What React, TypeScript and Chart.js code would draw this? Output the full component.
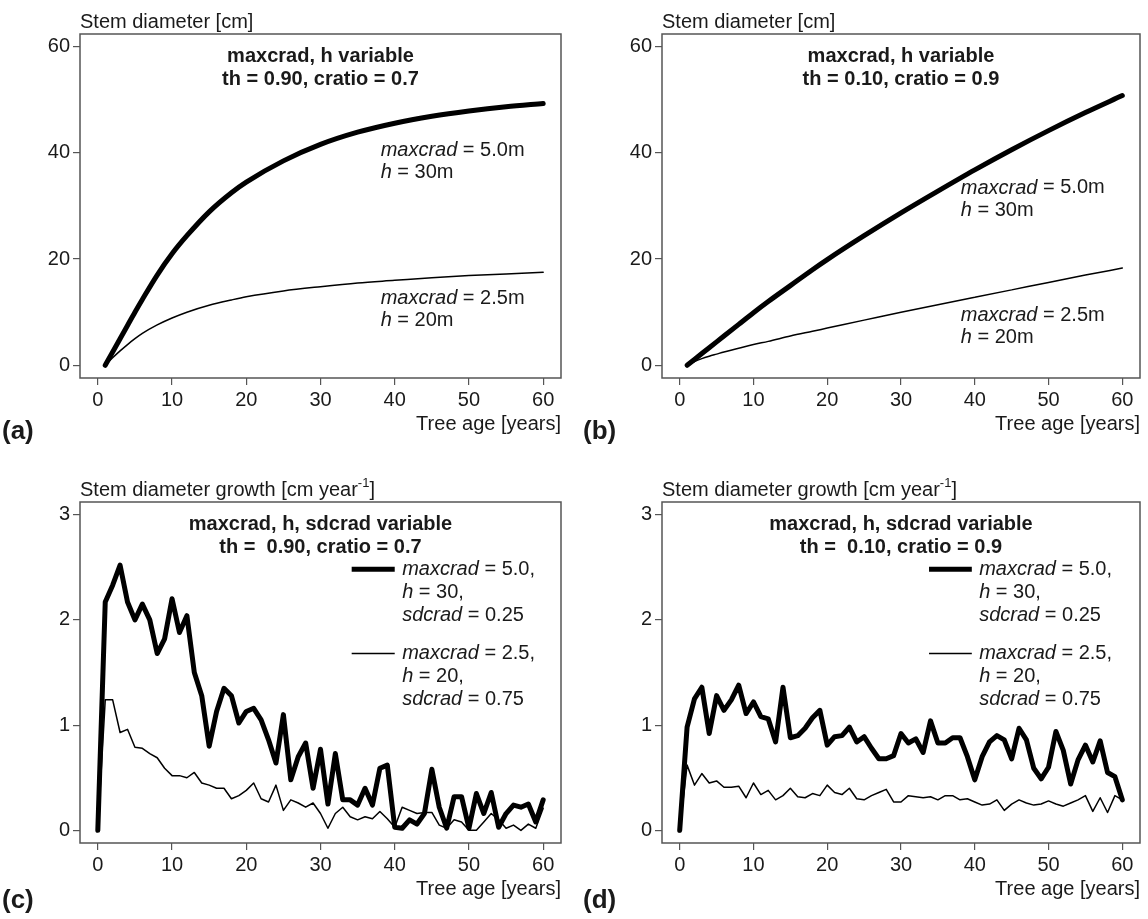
import React, { useEffect, useRef } from 'react';
import { Chart, registerables } from 'chart.js';

Chart.register(...registerables);

const FONT = '"Liberation Sans", Arial, Helvetica, sans-serif';

// ---------- Data: panels (a) and (b) — stem diameter [cm] vs tree age ----------
const agesAB = [1, 2, 3, 4, 5, 6, 8, 10, 12, 15, 18, 20, 25, 30, 35, 40, 45, 50, 55, 60];
const diamA_max50 = [0, 2.5, 5.0, 7.5, 10.0, 12.4, 17.0, 21.0, 24.4, 28.9, 32.5, 34.5, 38.5, 41.6, 43.9, 45.6, 46.9, 47.9, 48.7, 49.3];
const diamA_max25 = [0, 1.4, 2.7, 3.9, 5.0, 6.0, 7.6, 8.9, 10.0, 11.3, 12.3, 12.9, 14.0, 14.8, 15.5, 16.0, 16.5, 16.9, 17.2, 17.5];
const diamB_max50 = [0, 1.1, 2.2, 3.3, 4.4, 5.5, 7.7, 9.9, 12.0, 15.0, 18.0, 19.9, 24.4, 28.7, 32.8, 36.8, 40.6, 44.2, 47.6, 50.8];
const diamB_max25 = [0, 0.7, 1.25, 1.7, 2.1, 2.5, 3.2, 3.9, 4.5, 5.5, 6.4, 7.0, 8.5, 10.0, 11.4, 12.8, 14.2, 15.6, 17.0, 18.3];

// ---------- Data: panels (c) and (d) — stem diameter growth [cm/year] ----------
const agesCD = [0, 1, 2, 3, 4, 5, 6, 7, 8, 9, 10, 11, 12, 13, 14, 15, 16, 17, 18, 19, 20,
  21, 22, 23, 24, 25, 26, 27, 28, 29, 30, 31, 32, 33, 34, 35, 36, 37, 38, 39, 40,
  41, 42, 43, 44, 45, 46, 47, 48, 49, 50, 51, 52, 53, 54, 55, 56, 57, 58, 59, 60];
const growC_max50 = [0, 2.17, 2.33, 2.52, 2.17, 2.0, 2.15, 2.0, 1.68, 1.82, 2.2, 1.88, 2.04, 1.5, 1.28, 0.8, 1.13, 1.35, 1.28, 1.02, 1.13,
  1.16, 1.05, 0.86, 0.64, 1.1, 0.48, 0.7, 0.83, 0.4, 0.77, 0.25, 0.73, 0.29, 0.29, 0.24, 0.4, 0.24, 0.59, 0.62, 0.03,
  0.02, 0.1, 0.06, 0.16, 0.58, 0.22, 0.02, 0.32, 0.32, 0.02, 0.35, 0.16, 0.36, 0.03, 0.16, 0.24, 0.22, 0.25, 0.08, 0.29];
const growC_max25 = [0, 1.24, 1.24, 0.93, 0.96, 0.79, 0.78, 0.73, 0.69, 0.59, 0.52, 0.52, 0.5, 0.55, 0.45, 0.43, 0.4, 0.4, 0.3, 0.33, 0.38,
  0.45, 0.3, 0.27, 0.43, 0.19, 0.29, 0.26, 0.22, 0.26, 0.16, 0.02, 0.16, 0.22, 0.13, 0.1, 0.13, 0.11, 0.18, 0.11, 0.03,
  0.22, 0.19, 0.16, 0.17, 0.17, 0.05, 0.02, 0.1, 0.08, 0.0, 0.0, 0.08, 0.16, 0.1, 0.02, 0.05, 0.0, 0.06, 0.02, 0.21];
const growD_max50 = [0, 0.98, 1.25, 1.36, 0.92, 1.28, 1.14, 1.24, 1.38, 1.11, 1.22, 1.08, 1.06, 0.84, 1.36, 0.88, 0.9, 0.97, 1.07, 1.14, 0.81,
  0.89, 0.9, 0.98, 0.84, 0.89, 0.78, 0.68, 0.68, 0.71, 0.92, 0.83, 0.87, 0.74, 1.04, 0.83, 0.83, 0.88, 0.88, 0.7, 0.48,
  0.7, 0.84, 0.9, 0.86, 0.68, 0.97, 0.86, 0.59, 0.49, 0.6, 0.94, 0.76, 0.44, 0.67, 0.81, 0.65, 0.85, 0.55, 0.51, 0.29];
const growD_max25 = [0, 0.62, 0.43, 0.54, 0.45, 0.47, 0.41, 0.41, 0.42, 0.31, 0.45, 0.34, 0.38, 0.29, 0.33, 0.4, 0.32, 0.31, 0.35, 0.33, 0.43,
  0.36, 0.34, 0.4, 0.3, 0.29, 0.33, 0.36, 0.39, 0.27, 0.27, 0.33, 0.32, 0.31, 0.32, 0.29, 0.33, 0.33, 0.29, 0.3, 0.27,
  0.24, 0.25, 0.29, 0.19, 0.25, 0.29, 0.26, 0.24, 0.25, 0.28, 0.25, 0.23, 0.26, 0.29, 0.33, 0.18, 0.31, 0.17, 0.33, 0.29];

// ---------- Tick labels ----------
const xTicks = [0, 10, 20, 30, 40, 50, 60];
const yTicksAB = [0, 20, 40, 60];
const yTicksCD = [0, 1, 2, 3];

type Run = { t: string; i?: boolean; sup?: boolean };
type Note = { x: number; y: number; runs: Run[] };
type Series = { xs: number[]; ys: number[]; width: number };
type LegendLine = { x1: number; x2: number; y: number; width: number };

interface PanelSpec {
  letter: string;
  letterX: number;
  letterDy: number;
  yTitle: Run[];
  titles: string[];
  yMin: number;
  yMax: number;
  yTicks: number[];
  smooth: boolean;
  series: Series[];
  notes: Note[];
  legendLines: LegendLine[];
  canvas: { left: number; top: number; w: number; h: number };
  box: { left: number; top: number; right: number; bottom: number };
}

function drawRuns(ctx: CanvasRenderingContext2D, runs: Run[], x: number, y: number, size: number, align: 'left' | 'right' = 'left') {
  const fontFor = (r: Run) => `${r.i ? 'italic ' : ''}${r.sup ? Math.round(size * 0.65) : size}px ${FONT}`;
  let total = 0;
  for (const r of runs) {
    ctx.font = fontFor(r);
    total += ctx.measureText(r.t).width;
  }
  let cx = align === 'right' ? x - total : x;
  ctx.textAlign = 'left';
  ctx.textBaseline = 'middle';
  for (const r of runs) {
    ctx.font = fontFor(r);
    ctx.fillText(r.t, cx, r.sup ? y - size * 0.35 : y);
    cx += ctx.measureText(r.t).width;
  }
}

const panelPlugin = (spec: PanelSpec) => ({
  id: 'panelDecor' + spec.letter,
  afterDraw(chart: any) {
    const ctx: CanvasRenderingContext2D = chart.ctx;
    const ca = chart.chartArea;
    const xs = chart.scales.x;
    const ys = chart.scales.y;
    ctx.save();
    // box
    ctx.strokeStyle = '#555';
    ctx.lineWidth = 1.5;
    ctx.strokeRect(ca.left, ca.top, ca.right - ca.left, ca.bottom - ca.top);

    ctx.fillStyle = '#1a1a1a';
    // y-axis title above plot
    drawRuns(ctx, spec.yTitle, ca.left, ca.top - 12, 20);
    // x-axis title
    drawRuns(ctx, [{ t: 'Tree age [years]' }], ca.right, ca.bottom + 46, 20, 'right');
    // panel letter
    ctx.font = `bold 26px ${FONT}`;
    ctx.textAlign = 'left';
    ctx.textBaseline = 'middle';
    ctx.fillText(spec.letter, spec.letterX, ca.bottom + spec.letterDy);
    // bold titles
    ctx.font = `bold 20px ${FONT}`;
    ctx.textAlign = 'center';
    const cx = (ca.left + ca.right) / 2;
    spec.titles.forEach((t, k) => ctx.fillText(t, cx, ca.top + 22 + k * 23));
    // notes
    for (const n of spec.notes) {
      drawRuns(ctx, n.runs, xs.getPixelForValue(n.x), ys.getPixelForValue(n.y), 20);
    }
    // legend line samples
    ctx.strokeStyle = '#000';
    ctx.lineCap = 'butt';
    for (const l of spec.legendLines) {
      ctx.lineWidth = l.width;
      const py = ys.getPixelForValue(l.y);
      ctx.beginPath();
      ctx.moveTo(xs.getPixelForValue(l.x1), py);
      ctx.lineTo(xs.getPixelForValue(l.x2), py);
      ctx.stroke();
    }
    ctx.restore();
  },
});

function Panel({ spec }: { spec: PanelSpec }) {
  const ref = useRef<HTMLCanvasElement>(null);
  useEffect(() => {
    if (!ref.current) return;
    const { w, h } = spec.canvas;
    const box = spec.box;
    const tickFont = { family: FONT, size: 20 };
    const chart = new Chart(ref.current, {
      type: 'line',
      data: {
        datasets: spec.series.map((s) => ({
          data: s.xs.map((x, k) => ({ x, y: s.ys[k] })),
          borderColor: '#000',
          borderWidth: s.width,
          pointRadius: 0,
          fill: false,
          tension: spec.smooth ? 0.4 : 0,
          cubicInterpolationMode: spec.smooth ? 'monotone' : 'default',
          borderJoinStyle: 'round',
          borderCapStyle: 'round',
        })),
      },
      options: {
        responsive: false,
        animation: false,
        devicePixelRatio: 1,
        layout: { padding: { top: box.top, right: w - box.right, left: 0, bottom: 0 } },
        plugins: { legend: { display: false }, tooltip: { enabled: false } },
        scales: {
          x: {
            type: 'linear',
            min: -2.4,
            max: 62.4,
            afterBuildTicks: (sc: any) => {
              sc.ticks = xTicks.map((v) => ({ value: v }));
            },
            afterFit: (sc: any) => {
              sc.height = h - box.bottom;
            },
            grid: { display: true, drawOnChartArea: false, drawTicks: true, tickLength: 7, color: '#555', lineWidth: 1.2 },
            border: { display: false },
            ticks: { font: tickFont, color: '#1a1a1a', padding: 3, maxRotation: 0, autoSkip: false },
          },
          y: {
            type: 'linear',
            min: spec.yMin,
            max: spec.yMax,
            afterBuildTicks: (sc: any) => {
              sc.ticks = spec.yTicks.map((v) => ({ value: v }));
            },
            afterFit: (sc: any) => {
              sc.width = box.left;
            },
            grid: { display: true, drawOnChartArea: false, drawTicks: true, tickLength: 7, color: '#555', lineWidth: 1.2 },
            border: { display: false },
            ticks: { font: tickFont, color: '#1a1a1a', padding: 3, autoSkip: false },
          },
        },
      } as any,
      plugins: [panelPlugin(spec)],
    } as any);
    return () => chart.destroy();
  }, [spec]);
  const c = spec.canvas;
  return (
    <canvas
      ref={ref}
      width={c.w}
      height={c.h}
      style={{ position: 'absolute', left: c.left, top: c.top, width: c.w, height: c.h }}
    />
  );
}

const yTitleAB: Run[] = [{ t: 'Stem diameter [cm]' }];
const yTitleCD: Run[] = [{ t: 'Stem diameter growth [cm year' }, { t: '-1', sup: true }, { t: ']' }];

const legendNotes = (x: number): Note[] => [
  { x, y: 2.48, runs: [{ t: 'maxcrad', i: true }, { t: ' = 5.0,' }] },
  { x, y: 2.26, runs: [{ t: 'h', i: true }, { t: ' = 30,' }] },
  { x, y: 2.04, runs: [{ t: 'sdcrad', i: true }, { t: ' = 0.25' }] },
  { x, y: 1.68, runs: [{ t: 'maxcrad', i: true }, { t: ' = 2.5,' }] },
  { x, y: 1.46, runs: [{ t: 'h', i: true }, { t: ' = 20,' }] },
  { x, y: 1.24, runs: [{ t: 'sdcrad', i: true }, { t: ' = 0.75' }] },
];

const panels: PanelSpec[] = [
  {
    letter: '(a)',
    letterX: 2,
    letterDy: 54,
    yTitle: yTitleAB,
    titles: ['maxcrad, h variable', 'th = 0.90, cratio = 0.7'],
    yMin: -2.4,
    yMax: 62.4,
    yTicks: yTicksAB,
    smooth: true,
    series: [
      { xs: agesAB, ys: diamA_max25, width: 1.5 },
      { xs: agesAB, ys: diamA_max50, width: 5 },
    ],
    notes: [
      { x: 38.1, y: 40.5, runs: [{ t: 'maxcrad', i: true }, { t: ' = 5.0m' }] },
      { x: 38.1, y: 36.4, runs: [{ t: 'h', i: true }, { t: ' = 30m' }] },
      { x: 38.1, y: 12.6, runs: [{ t: 'maxcrad', i: true }, { t: ' = 2.5m' }] },
      { x: 38.1, y: 8.5, runs: [{ t: 'h', i: true }, { t: ' = 20m' }] },
    ],
    legendLines: [],
    canvas: { left: 0, top: 0, w: 574, h: 459 },
    box: { left: 80, top: 34, right: 561, bottom: 378 },
  },
  {
    letter: '(b)',
    letterX: 9,
    letterDy: 54,
    yTitle: yTitleAB,
    titles: ['maxcrad, h variable', 'th = 0.10, cratio = 0.9'],
    yMin: -2.4,
    yMax: 62.4,
    yTicks: yTicksAB,
    smooth: true,
    series: [
      { xs: agesAB, ys: diamB_max25, width: 1.5 },
      { xs: agesAB, ys: diamB_max50, width: 5 },
    ],
    notes: [
      { x: 38.1, y: 33.4, runs: [{ t: 'maxcrad', i: true }, { t: ' = 5.0m' }] },
      { x: 38.1, y: 29.2, runs: [{ t: 'h', i: true }, { t: ' = 30m' }] },
      { x: 38.1, y: 9.4, runs: [{ t: 'maxcrad', i: true }, { t: ' = 2.5m' }] },
      { x: 38.1, y: 5.3, runs: [{ t: 'h', i: true }, { t: ' = 20m' }] },
    ],
    legendLines: [],
    canvas: { left: 574, top: 0, w: 574, h: 459 },
    box: { left: 88, top: 34, right: 566, bottom: 378 },
  },
  {
    letter: '(c)',
    letterX: 2,
    letterDy: 58,
    yTitle: yTitleCD,
    titles: ['maxcrad, h, sdcrad variable', 'th =  0.90, cratio = 0.7'],
    yMin: -0.12,
    yMax: 3.12,
    yTicks: yTicksCD,
    smooth: false,
    series: [
      { xs: agesCD, ys: growC_max25, width: 1.5 },
      { xs: agesCD, ys: growC_max50, width: 5 },
    ],
    notes: legendNotes(41.0),
    legendLines: [
      { x1: 34.2, x2: 40.0, y: 2.48, width: 5 },
      { x1: 34.2, x2: 40.0, y: 1.68, width: 1.5 },
    ],
    canvas: { left: 0, top: 459, w: 574, h: 460 },
    box: { left: 80, top: 43, right: 561, bottom: 384 },
  },
  {
    letter: '(d)',
    letterX: 9,
    letterDy: 58,
    yTitle: yTitleCD,
    titles: ['maxcrad, h, sdcrad variable', 'th =  0.10, cratio = 0.9'],
    yMin: -0.12,
    yMax: 3.12,
    yTicks: yTicksCD,
    smooth: false,
    series: [
      { xs: agesCD, ys: growD_max25, width: 1.5 },
      { xs: agesCD, ys: growD_max50, width: 5 },
    ],
    notes: legendNotes(40.6),
    legendLines: [
      { x1: 33.8, x2: 39.6, y: 2.48, width: 5 },
      { x1: 33.8, x2: 39.6, y: 1.68, width: 1.5 },
    ],
    canvas: { left: 574, top: 459, w: 574, h: 460 },
    box: { left: 88, top: 43, right: 566, bottom: 384 },
  },
];

export default function App() {
  return (
    <div style={{ position: 'fixed', left: 0, top: 0, width: 1148, height: 919, background: '#fff', overflow: 'hidden' }}>
      {panels.map((p) => (
        <Panel key={p.letter} spec={p} />
      ))}
    </div>
  );
}
